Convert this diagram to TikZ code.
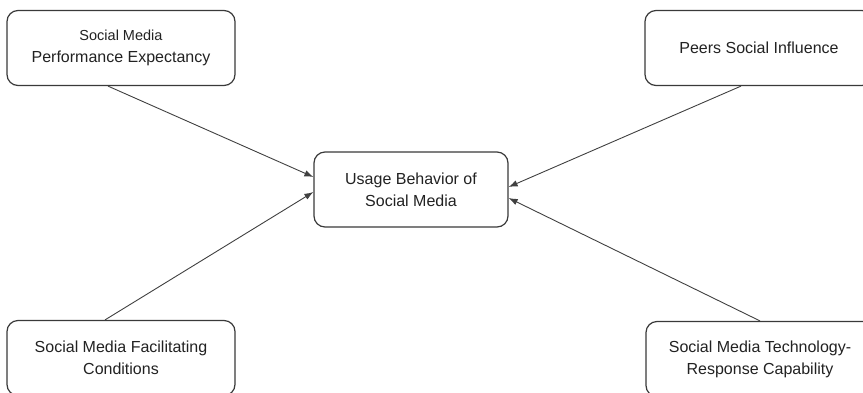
\documentclass[tikz,border=0pt]{standalone}
\usepackage{fontspec}
\setmainfont{Liberation Sans}
\usepackage{tikz}
\usetikzlibrary{arrows.meta}
\definecolor{boxline}{HTML}{3A3A3A}
\definecolor{arrline}{HTML}{404040}
\definecolor{txt}{HTML}{222222}

\tikzset{
  factor/.style={draw=boxline, line width=1.2pt, rounded corners=11pt, fill=white,
    minimum width=228pt, minimum height=75pt, align=center, text=txt,
    font=\fontsize{16pt}{22pt}\selectfont, inner sep=0pt},
  target/.style={factor, minimum width=194pt},
  link/.style={draw=arrline, line width=0.9pt, -{Latex[length=9pt,width=6.5pt]}}
}

\begin{document}
\begin{tikzpicture}[x=1pt,y=-1pt]
\useasboundingbox (0,0) rectangle (863,392);

%boxes
\node[factor] (perf) at (121,48) {{\fontsize{14.5pt}{22pt}\selectfont Social Media}\\Performance Expectancy};
\node[factor] (peers) at (759,48) {Peers Social Influence};
\node[target] (usage) at (411,189.5) {Usage Behavior of\\Social Media};
\node[factor] (facil) at (121,358) {Social Media Facilitating\\Conditions};
\node[factor] (tech) at (760,359) {Social Media Technology-\\Response Capability};

%arrows
\draw[link] ([xshift=-13pt]perf.south) -- ([yshift=12.5pt]usage.west);
\draw[link] ([xshift=-16pt]facil.north) -- ([yshift=-2.5pt]usage.west);
\draw[link] ([xshift=-18pt]peers.south) -- ([yshift=2.5pt]usage.east);
\draw[link] (tech.north) -- ([yshift=-8.5pt]usage.east);
\end{tikzpicture}
\end{document}
